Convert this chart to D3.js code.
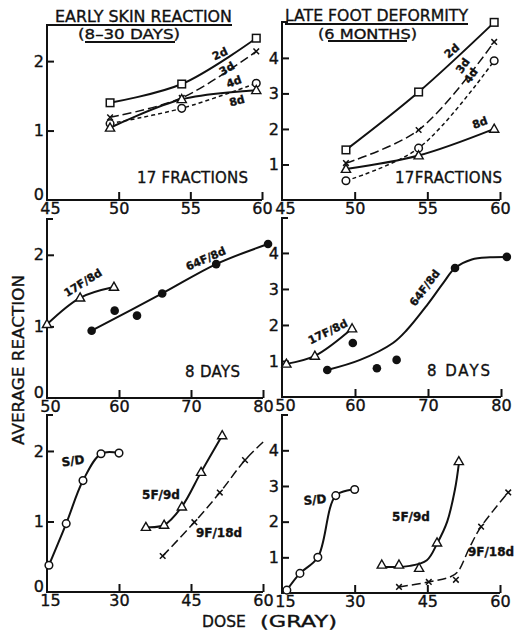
<!DOCTYPE html>
<html><head><meta charset="utf-8">
<script src="https://cdn.jsdelivr.net/npm/d3@7"></script>
<style>
html,body{margin:0;padding:0;background:#fff;}
svg{display:block;}
text{font-family:"DejaVu Sans",sans-serif;fill:#111;stroke:#111;stroke-width:0.35px;}
</style></head>
<body>
<script>
// ---------------- DATA ----------------
// Panel A: early skin reaction, 17 fractions
const dose17 = [49.4, 54.4, 59.6];
const early2d = [1.40, 1.67, 2.33];
const early3d = [1.19, 1.47, 2.14];
const early4d = [1.10, 1.32, 1.68];
const early8d = [1.04, 1.45, 1.58];
// Panel B: late foot deformity, 17 fractions
const late2d = [1.41, 3.04, 5.00];
const late3d = [1.04, 1.97, 4.45];
const late4d = [0.54, 1.46, 3.92];
const late8d = [0.87, 1.25, 2.00];
// Panel C: early, 8 days
const doseC17F = [50.0, 54.6, 59.3];
const earlyC17F = [1.03, 1.40, 1.55];
const doseC64F = [56.2, 59.4, 62.5, 66.0, 73.5, 80.7];
const earlyC64F = [0.94, 1.22, 1.15, 1.46, 1.87, 2.15];
const fitC64Fdose = [56.2, 66.0, 73.5, 80.7];
const fitC64Fval = [0.94, 1.46, 1.87, 2.15];
// Panel D: late, 8 days
const doseD17F = [50.6, 54.5, 59.6];
const lateD17F = [0.92, 1.14, 1.90];
const doseD64F = [56.2, 59.7, 63.0, 65.7, 73.7, 80.8];
const lateD64F = [0.75, 1.50, 0.80, 1.03, 3.58, 3.89];
const fitD64Fdose = [56.2, 60.7, 65.2, 67.1, 69.9, 72.1, 73.7, 76.0, 78.5, 80.8];
const fitD64Fval = [0.75, 1.03, 1.50, 1.86, 2.56, 3.17, 3.58, 3.82, 3.88, 3.89];
// Panel E: early, single dose & short schedules
const doseESD = [15.4, 19.0, 22.5, 26.25, 30.0];
const earlyESD = [0.38, 0.97, 1.58, 1.96, 1.97];
const doseE5F = [35.6, 39.4, 43.1, 47.1, 51.5];
const earlyE5F = [0.92, 0.95, 1.21, 1.70, 2.22];
const doseE9F = [39.1, 45.7, 51.0, 56.25];
const earlyE9F = [0.51, 0.99, 1.41, 1.87];
const fitE9Fdose = [39.1, 45.7, 51.0, 56.25, 60.4];
const fitE9Fval = [0.51, 0.99, 1.41, 1.87, 2.15];
// Panel F: late, single dose & short schedules
const doseFSD = [16.0, 18.7, 22.4, 26.1, 30.0];
const lateFSD = [0.08, 0.55, 1.00, 2.73, 2.90];
const doseF5F = [35.6, 39.15, 43.3, 47.0, 51.5];
const lateF5F = [0.79, 0.79, 0.70, 1.41, 3.69];
const fitF5Fdose = [35.0, 41.4, 44.9, 47.0, 49.1, 50.7, 51.5];
const fitF5Fval = [0.73, 0.76, 0.92, 1.38, 2.00, 2.90, 3.62];
const doseF9F = [39.15, 45.3, 50.9, 56.1, 61.7];
const lateF9F = [0.17, 0.31, 0.37, 1.86, 2.82];
const fitF9Fdose = [39.15, 45.3, 49.7, 51.3, 53.8, 56.1, 61.7];
const fitF9Fval = [0.17, 0.31, 0.45, 0.60, 1.30, 1.86, 2.82];
// Tick labels
const xTicksTop = [45, 50, 55, 60];
const xTicksMid = [50, 60, 70, 80];
const xTicksBot = [15, 30, 45, 60];
const yTicksLeft = [0, 1, 2];
const yTicksRight = [1, 2, 3, 4];

// ---------------- DRAW ----------------
const svg = d3.select("body").append("svg").attr("width", 525).attr("height", 632);
const zip = (a, b) => a.map((v, i) => [v, b[i]]);

function makePanel(c) {
  const x = d3.scaleLinear().domain(c.xd).range([c.l, c.r]);
  const y = d3.scaleLinear().domain([0, c.ytop]).range([c.b, c.t]);
  const g = svg.append("g");
  g.append("path").attr("d", `M${c.l + 6},${c.t}H${c.l}V${c.b}H${c.r}`)
    .attr("fill", "none").attr("stroke", "#111").attr("stroke-width", 2);
  const xa = g.append("g").attr("transform", `translate(0,${c.b})`)
    .call(d3.axisBottom(x).tickValues(c.xt).tickSize(-8).tickPadding(3).tickFormat(d3.format("d")));
  xa.select(".domain").remove();
  xa.selectAll(".tick line").attr("stroke", "#111").attr("stroke-width", 2)
    .filter(d => d === c.xd[0]).remove();
  xa.selectAll(".tick text").attr("font-size", 16).attr("font-family", "DejaVu Sans").attr("fill", "#111")
    .attr("dx", d => d === c.xd[0] ? 3 : 0);
  const ya = g.append("g").attr("transform", `translate(${c.l},0)`)
    .call(d3.axisLeft(y).tickValues(c.yt).tickSize(-7).tickPadding(3).tickFormat(d3.format("d")));
  ya.select(".domain").remove();
  ya.selectAll(".tick line").attr("stroke", "#111").attr("stroke-width", 2)
    .filter(d => d === 0).remove();
  ya.selectAll(".tick text").attr("font-size", 16).attr("font-family", "DejaVu Sans").attr("fill", "#111")
    .attr("dy", d => d === 0 ? "-0.05em" : "0.32em");
  return {x, y, g};
}

function curve(p, xs, ys, opts) {
  const line = d3.line().x(d => p.x(d[0])).y(d => p.y(d[1])).curve(d3.curveCatmullRom.alpha(0.5));
  p.g.append("path").attr("d", line(zip(xs, ys))).attr("fill", "none").attr("stroke", "#111")
    .attr("stroke-width", opts.w || 2).attr("stroke-dasharray", opts.dash || null);
}

function marks(p, xs, ys, type) {
  const pts = zip(xs, ys);
  const sel = p.g.append("g").selectAll("g").data(pts).join("g")
    .attr("transform", d => `translate(${p.x(d[0])},${p.y(d[1])})`);
  if (type === "square") sel.append("rect").attr("x", -3.8).attr("y", -3.8).attr("width", 7.6).attr("height", 7.6)
    .attr("fill", "#fff").attr("stroke", "#111").attr("stroke-width", 1.5);
  if (type === "circle") sel.append("circle").attr("r", 3.8).attr("fill", "#fff").attr("stroke", "#111").attr("stroke-width", 1.5);
  if (type === "dot") sel.append("circle").attr("r", 4.3).attr("fill", "#111");
  if (type === "tri") sel.append("path").attr("d", "M0,-4.8L4.6,3.3L-4.6,3.3Z").attr("fill", "#fff").attr("stroke", "#111").attr("stroke-width", 1.4);
  if (type === "x") sel.append("path").attr("d", "M-2.8,-2.8L2.8,2.8M2.8,-2.8L-2.8,2.8").attr("stroke", "#111").attr("stroke-width", 1.5);
}

function label(txt, cx, cy, rot, size, weight) {
  svg.append("text").attr("transform", `translate(${cx},${cy}) rotate(${rot || 0})`)
    .attr("text-anchor", "middle").attr("dominant-baseline", "central")
    .attr("font-size", size).attr("font-weight", weight || "normal").text(txt);
}

const LONG = "9,4", SHORT = "4,3";

// Panel A
const pA = makePanel({xd: [45, 60], ytop: 2.52, l: 47, r: 262, t: 25, b: 200, xt: xTicksTop, yt: yTicksLeft});
curve(pA, dose17, early2d, {});
curve(pA, dose17, early3d, {w: 1.5, dash: LONG});
curve(pA, dose17, early4d, {w: 1.5, dash: SHORT});
curve(pA, dose17, early8d, {});
marks(pA, dose17, early2d, "square");
marks(pA, dose17, early3d, "x");
marks(pA, dose17, early4d, "circle");
marks(pA, dose17, early8d, "tri");
label("2d", 220, 54, -25, 11, "bold");
label("3d", 227, 69, -30, 11, "bold");
label("4d", 234, 82, -20, 11, "bold");
label("8d", 237, 101, -15, 11, "bold");
svg.append("text").attr("x", 137).attr("y", 183).attr("font-size", 15).attr("textLength", 111).text("17 FRACTIONS");

// Panel B
const pB = makePanel({xd: [45, 60], ytop: 5.01, l: 282, r: 500, t: 22, b: 200, xt: xTicksTop, yt: yTicksRight});
curve(pB, dose17, late2d, {});
curve(pB, dose17, late3d, {w: 1.5, dash: LONG});
curve(pB, dose17, late4d, {w: 1.5, dash: SHORT});
curve(pB, dose17, late8d, {});
marks(pB, dose17, late2d, "square");
marks(pB, dose17, late3d, "x");
marks(pB, dose17, late4d, "circle");
marks(pB, dose17, late8d, "tri");
label("2d", 452, 51, -40, 11, "bold");
label("3d", 463, 66, -55, 11, "bold");
label("4d", 471, 76, -55, 11, "bold");
label("8d", 480, 123, -20, 11, "bold");
svg.append("text").attr("x", 395).attr("y", 183).attr("font-size", 15).attr("textLength", 107).text("17FRACTIONS");

// Panel C
const pC = makePanel({xd: [50, 80], ytop: 2.50, l: 47, r: 263, t: 219, b: 398, xt: xTicksMid, yt: yTicksLeft});
curve(pC, doseC17F, earlyC17F, {});
curve(pC, fitC64Fdose, fitC64Fval, {});
marks(pC, doseC17F, earlyC17F, "tri");
marks(pC, doseC64F, earlyC64F, "dot");
label("17F/8d", 83, 283, -32, 11, "bold");
label("64F/8d", 206, 259, -24, 11, "bold");
svg.append("text").attr("x", 185).attr("y", 377).attr("font-size", 15).attr("textLength", 55).text("8 DAYS");

// Panel D
const pD = makePanel({xd: [50, 80], ytop: 4.97, l: 282, r: 501, t: 218, b: 397, xt: xTicksMid, yt: yTicksRight});
curve(pD, doseD17F, lateD17F, {});
curve(pD, fitD64Fdose, fitD64Fval, {});
marks(pD, doseD17F, lateD17F, "tri");
marks(pD, doseD64F, lateD64F, "dot");
label("17F/8d", 328, 332, -26, 11, "bold");
label("64F/8d", 425, 288, -53, 11, "bold");
svg.append("text").attr("x", 427).attr("y", 376).attr("font-size", 15).attr("textLength", 63).text("8 DAYS");

// Panel E
const pE = makePanel({xd: [15, 60], ytop: 2.51, l: 47, r: 263, t: 415, b: 592, xt: xTicksBot, yt: yTicksLeft});
curve(pE, doseESD, earlyESD, {});
curve(pE, doseE5F, earlyE5F, {});
curve(pE, fitE9Fdose, fitE9Fval, {w: 1.5, dash: LONG});
marks(pE, doseESD, earlyESD, "circle");
marks(pE, doseE5F, earlyE5F, "tri");
marks(pE, doseE9F, earlyE9F, "x");
label("S/D", 73, 461, -8, 12, "bold");
label("5F/9d", 161, 495, 0, 12, "bold");
label("9F/18d", 219, 533, 0, 12, "bold");

// Panel F
const pF = makePanel({xd: [15, 60], ytop: 4.99, l: 282, r: 500, t: 415, b: 593, xt: xTicksBot, yt: yTicksRight});
curve(pF, doseFSD, lateFSD, {});
curve(pF, fitF5Fdose, fitF5Fval, {});
curve(pF, fitF9Fdose, fitF9Fval, {w: 1.5, dash: LONG});
marks(pF, doseFSD, lateFSD, "circle");
marks(pF, doseF5F, lateF5F, "tri");
marks(pF, doseF9F, lateF9F, "x");
label("S/D", 315, 500, -5, 12, "bold");
label("5F/9d", 411, 517, 0, 12, "bold");
label("9F/18d", 491, 552, 0, 12, "bold");

// Titles
function title(txt, x1, x2, base, size, ul1, ul2, uly) {
  svg.append("text").attr("x", x1).attr("y", base).attr("font-size", size)
    .attr("textLength", x2 - x1).attr("lengthAdjust", "spacingAndGlyphs").text(txt);
  svg.append("line").attr("x1", ul1).attr("x2", ul2).attr("y1", uly).attr("y2", uly)
    .attr("stroke", "#111").attr("stroke-width", 2);
}
title("EARLY SKIN REACTION", 55, 232, 22, 15.5, 53, 232, 25);
title("(8\u201330 DAYS)", 78, 180, 39, 14, 85, 175, 42);
title("LATE FOOT DEFORMITY", 285, 468, 21, 15.5, 285, 468, 24);
title("(6 MONTHS)", 318, 417, 38.5, 14, 328, 407, 41);

// Axis titles
svg.append("text").attr("transform", "translate(24,360) rotate(-90)").attr("text-anchor", "middle")
  .attr("font-size", 16).attr("textLength", 170).attr("lengthAdjust", "spacingAndGlyphs").text("AVERAGE REACTION");
svg.append("text").attr("x", 202).attr("y", 627).attr("font-size", 15.5).text("DOSE");
svg.append("text").attr("x", 260).attr("y", 627).attr("font-size", 15.5).attr("textLength", 77).attr("lengthAdjust", "spacingAndGlyphs").text("(GRAY)");
</script>
</body></html>
